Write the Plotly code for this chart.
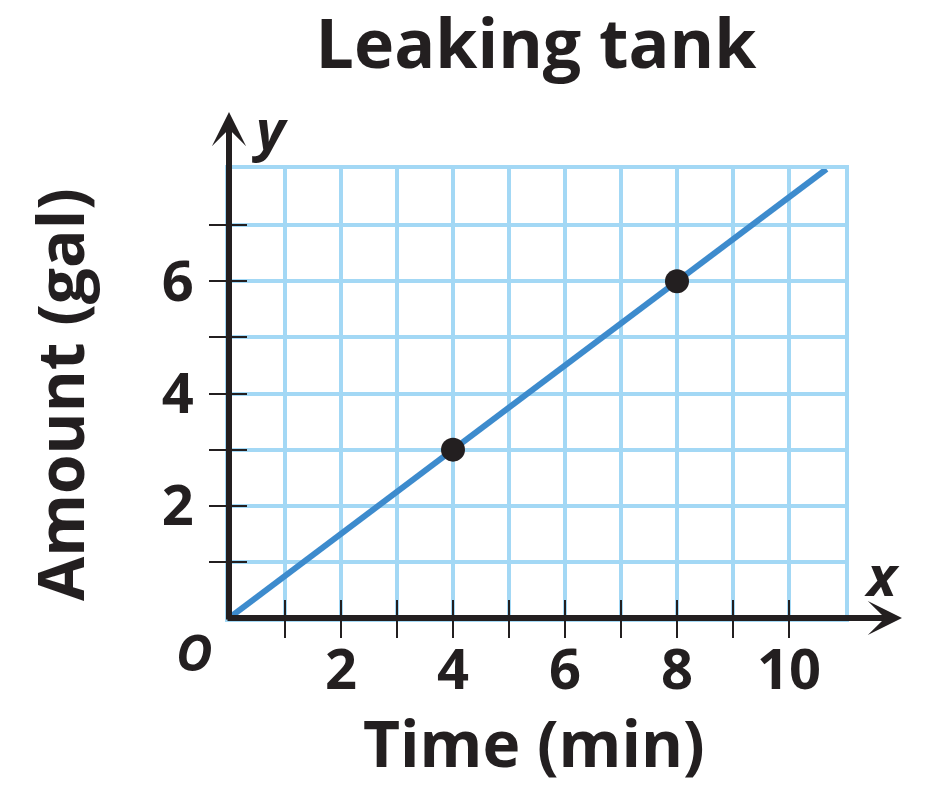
import plotly.graph_objects as go

# ---- data ----
time_min = [0, 4, 8, 10.67]
amount_gal = [0, 3, 6, 8]
point_time = [4, 8]
point_amount = [3, 6]
x_tickvals = [1, 2, 3, 4, 5, 6, 7, 8, 9, 10]
x_ticktext = ["", "2", "", "4", "", "6", "", "8", "", "10"]
y_tickvals = [1, 2, 3, 4, 5, 6, 7]
y_ticktext = ["", "2", "", "4", "", "6", ""]
title_text = "Leaking tank"
x_title = "Time (min)"
y_title = "Amount (gal)"

INK = "#231f20"
GRID = "#a3d8f5"
LINE = "#3d8bcd"
FONT = "Open Sans"

OFF = 8  # page body margin
W, H = 932 - OFF, 806 - OFF
# plot area in page pixels: x 229..845, y 169..618
L, R, T, B = 229 - OFF, 932 - 845, 169 - OFF, 806 - 618
pw, ph = W - L - R, H - T - B


def px(xp):
    return (xp - OFF - L) / pw


def py(yp):
    return (H - B - (yp - OFF)) / ph


fig = go.Figure()
fig.add_trace(go.Scatter(x=time_min, y=amount_gal, mode="lines",
                         line=dict(color=LINE, width=6), hoverinfo="skip",
                         showlegend=False, cliponaxis=False))
fig.add_trace(go.Scatter(x=point_time, y=point_amount, mode="markers",
                         marker=dict(color=INK, size=24), showlegend=False,
                         cliponaxis=False))
# invisible trace for overlay axes (outside tick marks)
fig.add_trace(go.Scatter(x=[0], y=[0], xaxis="x2", yaxis="y2", mode="markers",
                         marker=dict(opacity=0), showlegend=False, hoverinfo="skip"))

tickfont = dict(family=FONT, size=56, color=INK, weight="bold")

fig.update_layout(
    width=W, height=H,
    margin=dict(l=L, r=R, t=T, b=B),
    paper_bgcolor="white", plot_bgcolor="white",
    title=dict(text=title_text, x=px(536), xanchor="center", xref="paper",
               y=1 - (44 - OFF) / H, yref="container", yanchor="middle",
               font=dict(family=FONT, size=68, color=INK, weight="bold")),
    xaxis=dict(range=[0, 11], tickvals=x_tickvals, ticktext=x_ticktext,
               ticks="inside", ticklen=18, tickwidth=2, tickcolor=INK,
               tickfont=tickfont, ticklabelstandoff=0,
               showgrid=True, gridcolor=GRID, gridwidth=4,
               showline=True, linecolor=GRID, linewidth=4, mirror=True,
               zeroline=False, layer="below traces", fixedrange=True),
    yaxis=dict(range=[0, 8], tickvals=y_tickvals, ticktext=y_ticktext,
               ticks="inside", ticklen=18, tickwidth=2, tickcolor=INK,
               tickfont=tickfont, ticklabelstandoff=20,
               showgrid=True, gridcolor=GRID, gridwidth=4,
               showline=True, linecolor=GRID, linewidth=4, mirror=True,
               zeroline=False, layer="below traces", fixedrange=True),
    xaxis2=dict(range=[0, 11], overlaying="x", anchor="y2", side="bottom",
                tickvals=x_tickvals, ticks="outside", ticklen=19, tickwidth=2,
                tickcolor=INK, showticklabels=False, showgrid=False,
                zeroline=False, showline=False, fixedrange=True),
    yaxis2=dict(range=[0, 8], overlaying="y", anchor="x2", side="left",
                tickvals=y_tickvals, ticks="outside", ticklen=19, tickwidth=2,
                tickcolor=INK, showticklabels=False, showgrid=False,
                zeroline=False, showline=False, fixedrange=True),
    showlegend=False,
)

# axes with arrows
fig.add_annotation(x=px(902), y=py(618), xref="paper", yref="paper",
                   ax=-(902 - 226), ay=0, axref="pixel", ayref="pixel",
                   text="", showarrow=True, arrowhead=3, arrowsize=0.95,
                   arrowwidth=6, arrowcolor=INK, standoff=0, startstandoff=0)
fig.add_annotation(x=px(229), y=py(112), xref="paper", yref="paper",
                   ax=0, ay=(621 - 112), axref="pixel", ayref="pixel",
                   text="", showarrow=True, arrowhead=3, arrowsize=0.95,
                   arrowwidth=6, arrowcolor=INK, standoff=0, startstandoff=0)

italic = dict(family=FONT, size=56, color=INK, weight="bold", style="italic")
fig.add_annotation(x=px(270), y=py(128), xref="paper", yref="paper", text="y",
                   showarrow=False, font=italic, xanchor="center", yanchor="middle")
fig.add_annotation(x=px(882), y=py(574), xref="paper", yref="paper", text="x",
                   showarrow=False, font=italic, xanchor="center", yanchor="middle")
fig.add_annotation(x=px(194), y=py(652), xref="paper", yref="paper", text="O",
                   showarrow=False, font=dict(family=FONT, size=50, color=INK,
                                               weight="bold", style="italic"),
                   xanchor="center", yanchor="middle")

axis_font = dict(family=FONT, size=64, color=INK, weight="bold")
fig.add_annotation(x=px(534), y=py(742), xref="paper", yref="paper", text=x_title,
                   showarrow=False, font=axis_font, xanchor="center", yanchor="middle")
fig.add_annotation(x=px(59), y=py(395), xref="paper", yref="paper", text=y_title,
                   showarrow=False, font=axis_font, textangle=-90,
                   xanchor="center", yanchor="middle")

fig.write_html("out.html")
